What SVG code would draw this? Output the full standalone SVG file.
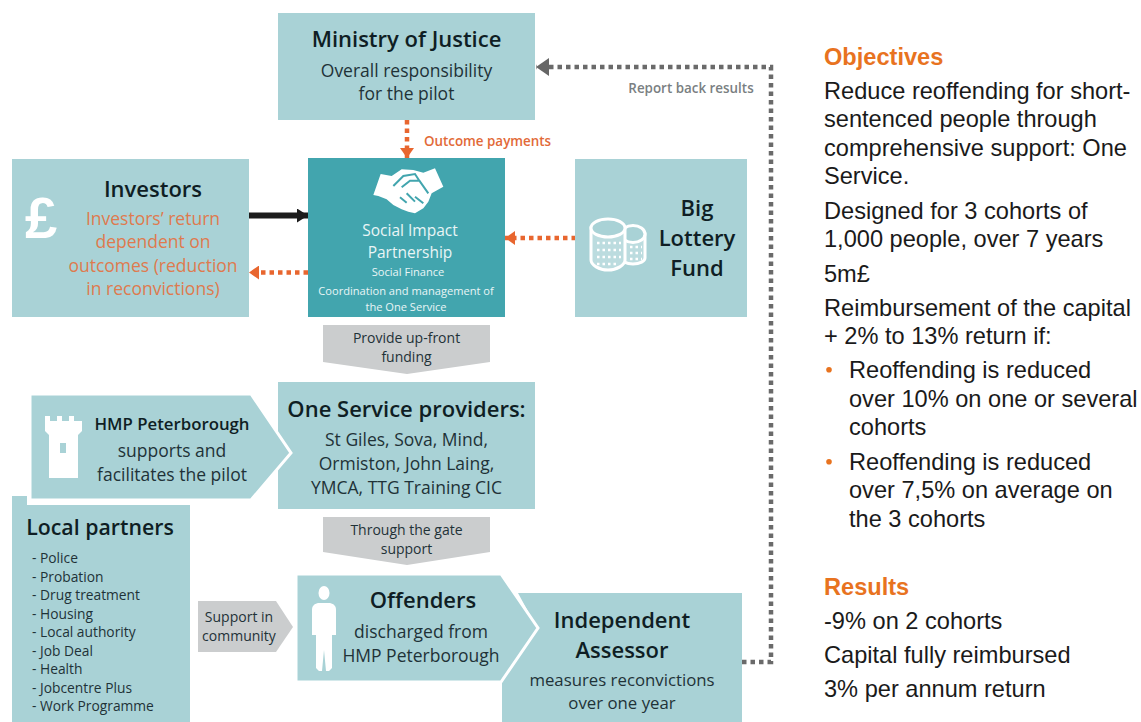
<svg xmlns="http://www.w3.org/2000/svg" width="1141" height="722" viewBox="0 0 1141 722">
<style>
text{font-family:"Open Sans","Noto Sans",sans-serif;text-anchor:middle;fill:#1f3238}
.box{fill:#a9d2d6}
.chev{fill:#cbcdce}
.ico{fill:#fff}
.h1{font-size:22px;font-weight:600;fill:#0f1e24}
.h2{font-size:17.5px;font-weight:400}
.or{fill:#df7a4e;font-size:17.5px}
.wh{fill:#e9f5f6}
.small{font-size:14px}
.list{font-size:13.8px;text-anchor:start}
.r{font-family:"Liberation Sans",Arial,sans-serif;font-size:23.6px;text-anchor:start;fill:#1a1a1a}
.rh{font-family:"Liberation Sans",Arial,sans-serif;font-size:23.6px;font-weight:700;text-anchor:start;fill:#e8731f}
.lab{font-size:13.4px;font-weight:600}
.dot{fill:none;stroke-width:4.5;stroke-dasharray:4.5 4}
</style>
<defs>
<marker id="ao" markerUnits="userSpaceOnUse" markerWidth="11" markerHeight="14" refX="10" refY="7" orient="auto"><path d="M0 0L10 7L0 14Z" fill="#e8662f"/></marker>
<marker id="ag" markerUnits="userSpaceOnUse" markerWidth="14" markerHeight="18" refX="13" refY="9" orient="auto"><path d="M0 0L13 9L0 18Z" fill="#666"/></marker>
<marker id="ab" markerUnits="userSpaceOnUse" markerWidth="12" markerHeight="14" refX="11" refY="7" orient="auto"><path d="M0 0L11 7L0 14Z" fill="#1c1c1c"/></marker>
</defs>

<g id="connectors">
<path class="dot" stroke="#e8662f" d="M407 120V158" marker-end="url(#ao)"/>
<path fill="none" stroke="#1c1c1c" stroke-width="6" d="M249 215.500H308" marker-end="url(#ab)"/>
<path class="dot" stroke="#e8662f" d="M308 272.500H249" marker-end="url(#ao)"/>
<path class="dot" stroke="#e8662f" d="M576 238H505" marker-end="url(#ao)"/>
<path class="dot" stroke="#6a6a6a" d="M742 662H771V67H536" marker-end="url(#ag)"/>
<text class="lab" x="487.500" y="146" style="fill:#e26a38">Outcome payments</text>
<text class="lab" x="691" y="93" style="fill:#7a7f82">Report back results</text>
</g>

<g id="ministry">
<rect class="box" x="278" y="13" width="257" height="107"/>
<text class="h1" x="406.500" y="47">Ministry of Justice</text>
<text class="h2" x="406.500" y="77">Overall responsibility</text>
<text class="h2" x="406.500" y="100">for the pilot</text>
</g>

<g id="investors">
<rect class="box" x="12" y="159" width="237" height="158"/>
<text style="fill:#fff;font-family:'Liberation Sans',sans-serif;font-weight:700;text-anchor:start;font-size:58px" x="25" y="238">£</text>
<text class="h1" x="153" y="197">Investors</text>
<text class="or" x="153" y="225">Investors’ return</text>
<text class="or" x="153" y="248">dependent on</text>
<text class="or" x="153" y="272">outcomes (reduction</text>
<text class="or" x="153" y="295">in reconvictions)</text>
</g>

<g id="social-impact">
<rect x="308" y="158" width="197" height="159" fill="#42a5ae"/>
<g transform="translate(360 160) scale(.3333)">
<path class="ico" d="M40 105L62 42L95 48L125 28L160 30L190 38L225 25L250 80L215 100L205 125L190 145L165 160L145 155L125 148L100 135L80 118L55 108Z"/>
<path d="M100 78L130 48L165 42L178 62L150 62L125 82M178 62L205 100M120 112L140 128M140 100L165 125M165 110L190 130" fill="none" stroke="#42a5ae" stroke-width="6"/>
</g>
<text class="wh" x="410" y="236" font-size="15.500">Social Impact</text>
<text class="wh" x="410" y="258" font-size="15.500">Partnership</text>
<text class="wh" x="408" y="276" font-size="11.100">Social Finance</text>
<text class="wh" x="406" y="295" font-size="11.100">Coordination and management of</text>
<text class="wh" x="406" y="311" font-size="11.100">the One Service</text>
</g>

<g id="big-lottery">
<rect class="box" x="575" y="159" width="172" height="158"/>
<g stroke="#fff" stroke-width="3">
<path fill="#bcdcdf" d="M621 234h24v24c0 3-5 6-12 6s-12-3-12-6Z"/>
<ellipse cx="633" cy="234" rx="12" ry="8.500" fill="#a9d2d6"/>
<path fill="#bcdcdf" d="M591 228v32c0 5 8 10 17 10s17-5 17-10v-32Z"/>
<ellipse cx="608" cy="228" rx="17" ry="9" fill="#a9d2d6"/>
</g>
<path d="M597 243h24M597 250h24M597 257h24M597 264h22M630 247h12M630 253h12M630 259h12" fill="none" stroke="#fff" stroke-width="2.500" stroke-dasharray="2.500 3"/>
<text class="h1" x="697" y="216">Big</text>
<text class="h1" x="697" y="246">Lottery</text>
<text class="h1" x="697" y="276">Fund</text>
</g>

<g id="provide-funding">
<path class="chev" d="M323 325H490V362L407 374L323 362Z"/>
<text class="small" x="406.500" y="343">Provide up-front</text>
<text class="small" x="406.500" y="362">funding</text>
</g>

<g id="one-service">
<rect class="box" x="278" y="382" width="257" height="127"/>
<text class="h1" x="406.500" y="417">One Service providers:</text>
<text class="h2" x="406.500" y="446">St Giles, Sova, Mind,</text>
<text class="h2" x="406.500" y="470">Ormiston, John Laing,</text>
<text class="h2" x="406.500" y="494">YMCA, TTG Training CIC</text>
</g>

<g id="hmp-peterborough">
<path class="box" stroke="#fff" stroke-width="3" d="M30 394H251L291 453L251 500H30Z"/>
<path class="ico" d="M45 416H50V421H57V416H62V421H69V416H74V421H82V431L78 435V478H49V435L45 431Z"/>
<rect x="60" y="443" width="6" height="10" fill="#a9d2d6"/>
<text x="172" y="430" style="font-size:16.800px;font-weight:600;fill:#0f1e24">HMP Peterborough</text>
<text class="h2" x="172" y="457">supports and</text>
<text class="h2" x="172" y="481">facilitates the pilot</text>
</g>

<g id="local-partners">
<path class="box" d="M12 496H27V505H190V722H12Z"/>
<text class="h1" x="100" y="535" style="font-size:21.300px">Local partners</text>
<text class="list" x="32" y="563">- Police</text>
<text class="list" x="32" y="582">- Probation</text>
<text class="list" x="32" y="600">- Drug treatment</text>
<text class="list" x="32" y="619">- Housing</text>
<text class="list" x="32" y="637">- Local authority</text>
<text class="list" x="32" y="656">- Job Deal</text>
<text class="list" x="32" y="674">- Health</text>
<text class="list" x="32" y="693">- Jobcentre Plus</text>
<text class="list" x="32" y="711">- Work Programme</text>
</g>

<g id="through-gate">
<path class="chev" d="M323 517H490V552L407 565L323 552Z"/>
<text class="small" x="406.500" y="535">Through the gate</text>
<text class="small" x="406.500" y="554">support</text>
</g>

<g id="support-community">
<path class="chev" d="M198 601H276L293 627L276 652H198Z"/>
<text class="small" x="239" y="622">Support in</text>
<text class="small" x="239" y="641">community</text>
</g>

<g id="assessor">
<path class="box" d="M518 593H742V722H502V681L537 628Z"/>
<text class="h1" x="622" y="628">Independent</text>
<text class="h1" x="622" y="658">Assessor</text>
<text class="h2" x="622" y="686" style="font-size:16.800px">measures reconvictions</text>
<text class="h2" x="622" y="709" style="font-size:16.800px">over one year</text>
</g>

<g id="offenders">
<path class="box" stroke="#fff" stroke-width="3" d="M296 574H501L538 628L501 682H296Z"/>
<ellipse class="ico" cx="324" cy="593" rx="5.500" ry="7"/>
<path class="ico" d="M318 603H330C334 604 336 606 336 610V635H332V668L329 671H326L324 650L322 671H319L316 668V635H312V610C312 606 314 604 318 603Z"/>
<text class="h1" x="423" y="608">Offenders</text>
<text class="h2" x="421" y="638">discharged from</text>
<text class="h2" x="421" y="662">HMP Peterborough</text>
</g>

<g id="right-panel" transform="translate(0 .7)">
<text class="rh" x="824" y="64">Objectives</text>
<text class="r" x="824" y="98">Reduce reoffending for short-</text>
<text class="r" x="824" y="126">sentenced people through</text>
<text class="r" x="824" y="155">comprehensive support: One</text>
<text class="r" x="824" y="183">Service.</text>
<text class="r" x="824" y="218">Designed for 3 cohorts of</text>
<text class="r" x="824" y="246">1,000 people, over 7 years</text>
<text class="r" x="824" y="281">5m£</text>
<text class="r" x="824" y="315">Reimbursement of the capital</text>
<text class="r" x="824" y="343">+ 2% to 13% return if:</text>
<circle cx="829" cy="369" r="2.800" fill="#e8731f"/>
<text class="r" x="849" y="377">Reoffending is reduced</text>
<text class="r" x="849" y="406">over 10% on one or several</text>
<text class="r" x="849" y="434">cohorts</text>
<circle cx="829" cy="461" r="2.800" fill="#e8731f"/>
<text class="r" x="849" y="469">Reoffending is reduced</text>
<text class="r" x="849" y="497">over 7,5% on average on</text>
<text class="r" x="849" y="526">the 3 cohorts</text>
<text class="rh" x="824" y="594">Results</text>
<text class="r" x="824" y="628">-9% on 2 cohorts</text>
<text class="r" x="824" y="662">Capital fully reimbursed</text>
<text class="r" x="824" y="696">3% per annum return</text>
</g>
</svg>
